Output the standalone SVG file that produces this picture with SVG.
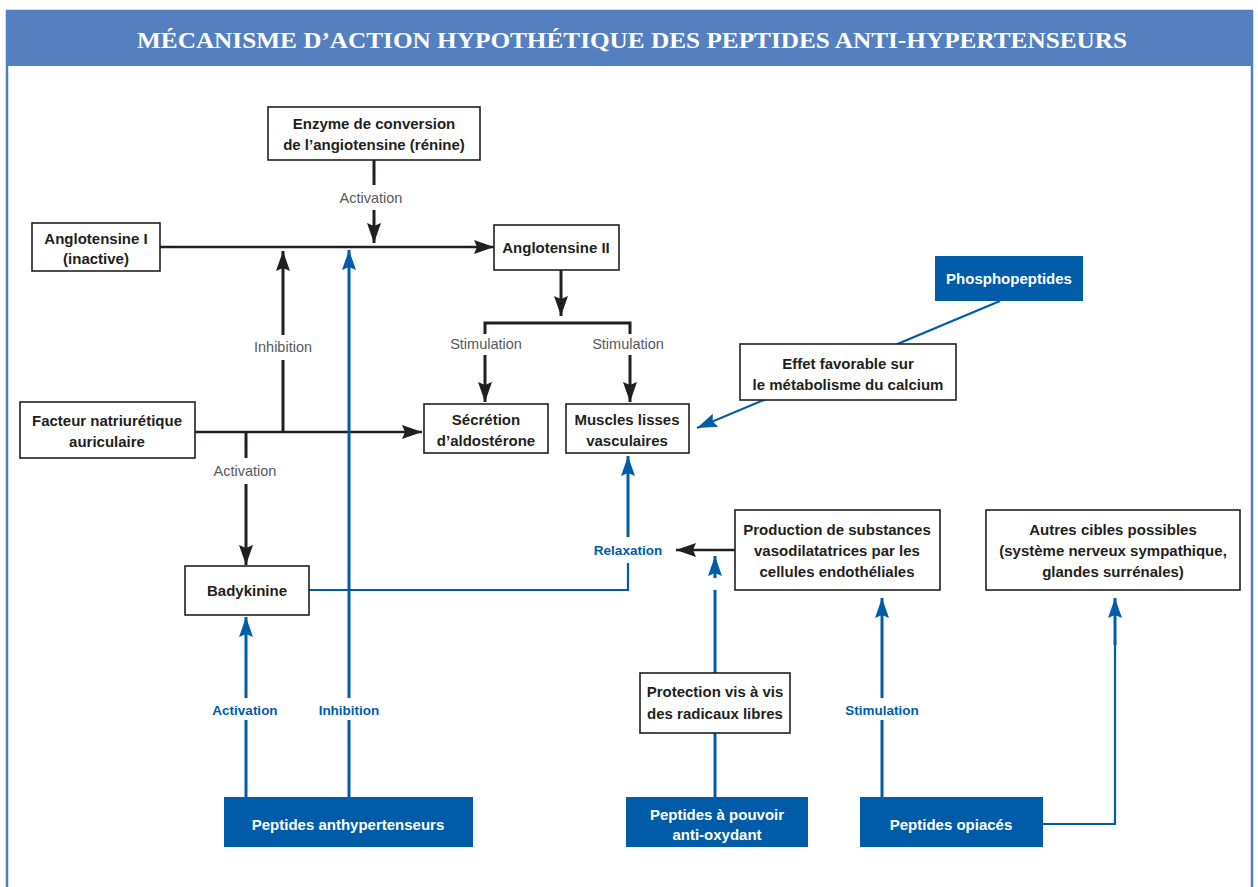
<svg xmlns="http://www.w3.org/2000/svg" width="1258" height="887" viewBox="0 0 1258 887">
<style>
.box{fill:#fff;stroke:#231f20;stroke-width:1.6}
.bbox{fill:#005ca9;stroke:none}
.t{font-family:"Liberation Sans",Arial,sans-serif;font-weight:bold;font-size:15px;fill:#231f20;text-anchor:middle}
.tw{font-family:"Liberation Sans",Arial,sans-serif;font-weight:bold;font-size:15px;fill:#fff;text-anchor:middle}
.g{font-family:"Liberation Sans",Arial,sans-serif;font-size:14.5px;fill:#58595b;text-anchor:middle}
.bl{font-family:"Liberation Sans",Arial,sans-serif;font-weight:bold;font-size:13.5px;fill:#005ca9;text-anchor:middle}
.k{stroke:#231f20;stroke-width:3;fill:none}
.k2{stroke:#231f20;stroke-width:2.5;fill:none}
.b{stroke:#005ca9;stroke-width:3;fill:none}
.b2{stroke:#005ca9;stroke-width:2.2;fill:none}
</style>
<defs>
<marker id="ak" viewBox="0 0 20 14" markerWidth="20" markerHeight="14" refX="20" refY="7" orient="auto" markerUnits="userSpaceOnUse"><path d="M0,0 L20,7 L0,14 L3,7 z" fill="#231f20"/></marker>
<marker id="ab" viewBox="0 0 20 14" markerWidth="20" markerHeight="14" refX="20" refY="7" orient="auto" markerUnits="userSpaceOnUse"><path d="M0,0 L20,7 L0,14 L3,7 z" fill="#005ca9"/></marker>
</defs>
<rect x="0" y="0" width="1258" height="887" fill="#fff"/>
<g id="frame">
<rect x="7" y="11" width="1245" height="890" fill="none" stroke="#4f7ec0" stroke-width="2.5"/>
<rect x="7" y="11" width="1245" height="55" fill="#5480c1"/>
<text x="632" y="48" font-family="Liberation Serif,serif" font-weight="bold" font-size="24" fill="#fff" text-anchor="middle" textLength="990" lengthAdjust="spacingAndGlyphs">MÉCANISME D’ACTION HYPOTHÉTIQUE DES PEPTIDES ANTI-HYPERTENSEURS</text>
</g>
<g id="connectors">
<line class="k2" x1="160" y1="247" x2="494" y2="247" marker-end="url(#ak)"/>
<line class="k" x1="374" y1="160" x2="374" y2="185"/>
<line class="k" x1="374" y1="210" x2="374" y2="243" marker-end="url(#ak)"/>
<text class="g" x="371" y="203">Activation</text>
<line class="k" x1="283" y1="432" x2="283" y2="360"/>
<line class="k" x1="283" y1="335" x2="283" y2="251" marker-end="url(#ak)"/>
<text class="g" x="283" y="352">Inhibition</text>
<line class="k" x1="561" y1="270" x2="561" y2="316" marker-end="url(#ak)"/>
<path class="k" d="M485,334 V323 H630 V334"/>
<line class="k" x1="485" y1="355" x2="485" y2="402" marker-end="url(#ak)"/>
<line class="k" x1="630" y1="355" x2="630" y2="402" marker-end="url(#ak)"/>
<text class="g" x="486" y="349">Stimulation</text>
<text class="g" x="628" y="349">Stimulation</text>
<line class="k2" x1="195" y1="432" x2="422" y2="432" marker-end="url(#ak)"/>
<line class="k" x1="246" y1="432" x2="246" y2="458"/>
<line class="k" x1="246" y1="484" x2="246" y2="565" marker-end="url(#ak)"/>
<text class="g" x="245" y="476">Activation</text>
<line class="k2" x1="735" y1="550" x2="676" y2="550" marker-end="url(#ak)"/>
<path class="b2" d="M309,590 H628 V563"/>
<line class="b" x1="628" y1="537" x2="628" y2="456" marker-end="url(#ab)"/>
<text class="bl" x="628" y="555">Relaxation</text>
<line class="b2" x1="1000" y1="301" x2="697" y2="428" marker-end="url(#ab)"/>
<line class="b" x1="246" y1="797" x2="246" y2="720"/>
<line class="b" x1="246" y1="698" x2="246" y2="617" marker-end="url(#ab)"/>
<text class="bl" x="245" y="715">Activation</text>
<line class="b" x1="349" y1="797" x2="349" y2="720"/>
<line class="b" x1="349" y1="698" x2="349" y2="250" marker-end="url(#ab)"/>
<text class="bl" x="349" y="715">Inhibition</text>
<line class="b" x1="715" y1="797" x2="715" y2="733"/>
<line class="b" x1="715" y1="673" x2="715" y2="590"/>
<line class="b" x1="715" y1="578" x2="715" y2="556" marker-end="url(#ab)"/>
<line class="b" x1="882" y1="797" x2="882" y2="720"/>
<line class="b" x1="882" y1="698" x2="882" y2="598" marker-end="url(#ab)"/>
<text class="bl" x="882" y="715">Stimulation</text>
<path class="b2" d="M1043,824 H1115 V640"/>
<line class="b" x1="1115" y1="645" x2="1115" y2="598" marker-end="url(#ab)"/>
</g>
<g id="enzyme"><rect class="box" x="268" y="107" width="212" height="53"/><text class="t" x="374" y="129">Enzyme de conversion</text><text class="t" x="374" y="150">de l’angiotensine (rénine)</text></g>
<g id="angio1"><rect class="box" x="32" y="223" width="128" height="48"/><text class="t" x="96" y="244">Anglotensine I</text><text class="t" x="96" y="264">(inactive)</text></g>
<g id="angio2"><rect class="box" x="494" y="225" width="125" height="45"/><text class="t" x="556" y="253">Anglotensine II</text></g>
<g id="phospho"><rect class="bbox" x="935" y="256" width="148" height="45"/><text class="tw" x="1009" y="284">Phosphopeptides</text></g>
<g id="effet"><rect class="box" x="740" y="344" width="216" height="56"/><text class="t" x="848" y="369">Effet favorable sur</text><text class="t" x="848" y="390">le métabolisme du calcium</text></g>
<g id="secretion"><rect class="box" x="424" y="404" width="124" height="49"/><text class="t" x="486" y="425">Sécrétion</text><text class="t" x="486" y="446">d’aldostérone</text></g>
<g id="muscles"><rect class="box" x="566" y="404" width="123" height="49"/><text class="t" x="627" y="425">Muscles lisses</text><text class="t" x="627" y="446">vasculaires</text></g>
<g id="facteur"><rect class="box" x="20" y="402" width="175" height="56"/><text class="t" x="107" y="426">Facteur natriurétique</text><text class="t" x="107" y="447">auriculaire</text></g>
<g id="badykinine"><rect class="box" x="185" y="566" width="124" height="49"/><text class="t" x="247" y="596">Badykinine</text></g>
<g id="production"><rect class="box" x="735" y="510" width="205" height="80"/><text class="t" x="837" y="535">Production de substances</text><text class="t" x="837" y="556">vasodilatatrices par les</text><text class="t" x="837" y="577">cellules endothéliales</text></g>
<g id="autres"><rect class="box" x="986" y="510" width="254" height="80"/><text class="t" x="1113" y="535">Autres cibles possibles</text><text class="t" x="1113" y="556">(système nerveux sympathique,</text><text class="t" x="1113" y="577">glandes surrénales)</text></g>
<g id="protection"><rect class="box" x="640" y="673" width="150" height="60"/><text class="t" x="715" y="697">Protection vis à vis</text><text class="t" x="715" y="719">des radicaux libres</text></g>
<g id="anthyp"><rect class="bbox" x="224" y="797" width="249" height="50"/><text class="tw" x="348" y="830">Peptides anthypertenseurs</text></g>
<g id="antiox"><rect class="bbox" x="626" y="797" width="182" height="50"/><text class="tw" x="717" y="820">Peptides à pouvoir</text><text class="tw" x="717" y="840">anti-oxydant</text></g>
<g id="opiaces"><rect class="bbox" x="860" y="797" width="183" height="50"/><text class="tw" x="951" y="830">Peptides opiacés</text></g>
</svg>
